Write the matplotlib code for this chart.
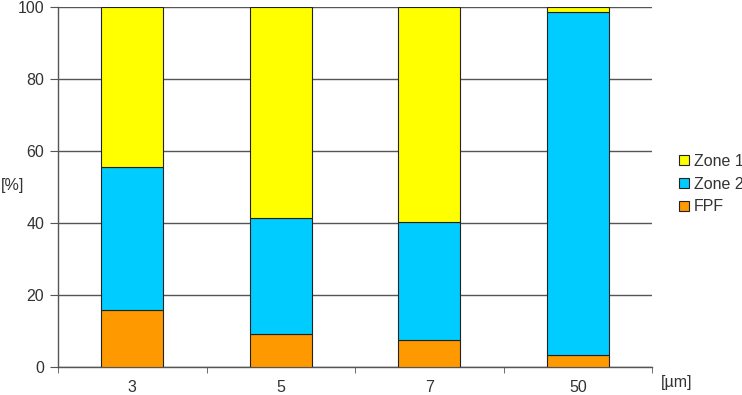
import matplotlib
matplotlib.use('Agg')
import matplotlib.pyplot as plt
import numpy as np

plt.rcParams['font.family'] = ['Liberation Sans', 'DejaVu Sans']

categories = ['3', '5', '7', '50']
fpf = [15.8, 9.2, 7.6, 3.2]
zone2 = [39.8, 32.3, 32.7, 95.4]
zone1 = [44.4, 58.5, 59.7, 1.4]

FS = 11.5
TXT = '#333333'

fig = plt.figure(figsize=(7.42, 3.95), dpi=100)
ax = fig.add_axes([58/742, 1 - 367/395, (652-58)/742, 360/395])

x = np.arange(len(categories))
w = 0.415
bottom2 = np.array(fpf)
bottom1 = bottom2 + np.array(zone2)
ax.bar(x, fpf, w, color='#FF9900', edgecolor='#222222', linewidth=0.8, label='FPF', zorder=3)
ax.bar(x, zone2, w, bottom=bottom2, color='#00CCFF', edgecolor='#222222', linewidth=0.8, label='Zone 2', zorder=3)
ax.bar(x, zone1, w, bottom=bottom1, color='#FFFF00', edgecolor='#222222', linewidth=0.8, label='Zone 1', zorder=3)

ax.set_xlim(-0.5, 3.5)
ax.set_ylim(0, 100)
ax.set_yticks(range(0, 101, 20))
ax.set_xticks(x)
ax.set_xticklabels(categories)
ax.set_xticks(np.arange(-0.5, 3.6, 1), minor=True)
ax.tick_params(axis='x', which='major', length=0, pad=9, labelsize=FS, colors=TXT)
ax.tick_params(axis='x', which='minor', length=4, direction='out', color='#555555')
ax.tick_params(axis='y', length=6, direction='out', color='#555555', labelsize=FS, labelcolor=TXT, pad=4)
ax.yaxis.grid(True, color='#555555', linewidth=1.0, zorder=0)
for s in ['top', 'right']:
    ax.spines[s].set_visible(False)
ax.spines['left'].set_color('#555555')
ax.spines['bottom'].set_color('#555555')
ax.spines['left'].set_linewidth(1.0)
ax.spines['bottom'].set_linewidth(1.0)

fig.text(13/742, 1 - 185/395, '[%]', ha='center', va='center', fontsize=FS, color=TXT)
fig.text(677/742, 1 - 382/395, '[\u00b5m]', ha='center', va='center', fontsize=FS, color=TXT)

h, l = ax.get_legend_handles_labels()
fig.legend(h[::-1], l[::-1], loc='center left', bbox_to_anchor=(665/742, 1 - 184/395),
           frameon=False, fontsize=FS, handlelength=0.6, handleheight=0.6,
           handletextpad=0.3, labelspacing=0.5, labelcolor=TXT)

fig.savefig('out.png', dpi=100)
